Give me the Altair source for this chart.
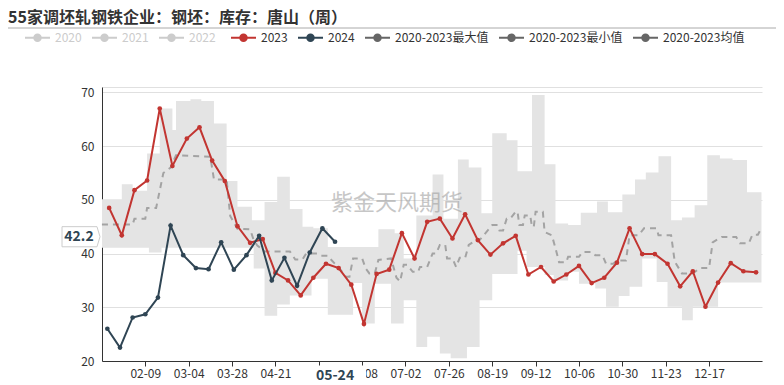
import altair as alt
import pandas as pd

TITLE = "55家调坯轧钢铁企业：钢坯：库存：唐山（周）"
WATERMARK = "紫金天风期货"
FONT = "Noto Sans CJK SC"

# weekly series (Fridays); 2023 is shown on the month-day seasonal axis
S2023_FIRST = "2023-01-20"
S2023 = [48.5, 43.4, 51.8, 53.6, 67.0, 56.3, 61.4, 63.5, 57.3, 53.5,
         45.1, 42.0, 42.7, 36.4, 35.0, 32.2, 35.5, 38.1, 37.3, 34.2,
         26.9, 36.2, 37.0, 43.8, 39.1, 45.9, 46.5, 42.8, 47.3, 42.5,
         39.8, 41.9, 43.3, 36.1, 37.5, 34.8, 36.1, 37.7, 34.5, 35.5,
         38.3, 44.7, 39.9, 39.9, 38.1, 33.9, 36.7, 30.1, 34.6, 38.2,
         36.7, 36.5]
S2024_FIRST = "2024-01-19"
S2024 = [26.0, 22.5, 28.1, 28.7, 31.8, 45.2, 39.7, 37.3, 37.1, 42.1,
         37.0, 39.7, 43.3, 35.0, 39.2, 34.0, 40.2, 44.7, 42.2]

# 2020-2023 max (step changes)
MAX_DATES = ["2024-01-16", "2024-01-27", "2024-02-02", "2024-02-10", "2024-02-17",
             "2024-02-24", "2024-02-26", "2024-03-05", "2024-03-11", "2024-03-18",
             "2024-03-25", "2024-03-31", "2024-04-08", "2024-04-15", "2024-04-22",
             "2024-04-29", "2024-05-06", "2024-05-12", "2024-05-20", "2024-06-17",
             "2024-06-26", "2024-07-01", "2024-07-08", "2024-07-17", "2024-07-23",
             "2024-07-31", "2024-08-06", "2024-08-13", "2024-08-19", "2024-08-27",
             "2024-09-02", "2024-09-10", "2024-09-17", "2024-09-23", "2024-09-30",
             "2024-10-07", "2024-10-16", "2024-10-22", "2024-10-30", "2024-11-06",
             "2024-11-12", "2024-11-19", "2024-11-26", "2024-12-02", "2024-12-09",
             "2024-12-16", "2024-12-23", "2024-12-30", "2025-01-07"]
MAX_VALS = [50.1, 52.9, 51.7, 58.6, 67.0,
            63.0, 68.4, 68.7, 68.4, 64.2,
            53.5, 48.7, 46.2, 49.6, 54.3,
            48.3, 45.0, 44.7, 41.2, 44.5,
            43.8, 39.1, 47.1, 54.7, 46.5,
            57.5, 56.0, 47.5, 62.4, 61.1,
            55.3, 69.5, 56.6, 45.6, 45.3,
            47.6, 49.7, 47.7, 51.0, 53.8,
            55.1, 58.1, 46.2, 46.7, 49.0,
            58.3, 57.7, 57.4, 51.4]

# 2020-2023 min (step changes)
MIN_DATES = ["2024-01-16", "2024-02-11", "2024-02-18", "2024-04-09", "2024-04-15",
             "2024-04-22", "2024-04-29", "2024-05-11", "2024-05-20", "2024-06-03",
             "2024-06-08", "2024-06-15", "2024-06-24", "2024-07-01", "2024-07-08",
             "2024-07-14", "2024-07-21", "2024-07-27", "2024-08-05", "2024-08-12",
             "2024-08-19", "2024-09-02", "2024-09-07", "2024-09-17", "2024-09-22",
             "2024-09-30", "2024-10-06", "2024-10-15", "2024-10-21", "2024-10-28",
             "2024-11-03", "2024-11-10", "2024-11-18", "2024-11-24", "2024-12-02",
             "2024-12-08", "2024-12-22"]
MIN_VALS = [41.1, 40.2, 41.1, 37.2, 28.4,
            30.5, 32.2, 35.3, 28.6, 34.5,
            27.0, 34.4, 27.0, 31.3, 22.6,
            24.5, 21.4, 20.5, 22.6, 31.3,
            36.2, 40.5, 37.5, 36.0, 35.0,
            36.6, 34.4, 33.5, 30.1, 32.1,
            33.8, 39.1, 34.7, 30.1, 27.6,
            30.1, 34.6]
BAND_END = "2025-01-15"

# 2020-2023 mean
MEAN_DATES = ["2024-01-16", "2024-02-02", "2024-02-03", "2024-02-09", "2024-02-10",
              "2024-02-15", "2024-02-19", "2024-02-23", "2024-02-26", "2024-03-16",
              "2024-03-18", "2024-03-25", "2024-03-27", "2024-03-31", "2024-04-07",
              "2024-04-09", "2024-04-11", "2024-04-15", "2024-04-29", "2024-05-02",
              "2024-05-06", "2024-05-08", "2024-05-14", "2024-05-16", "2024-05-20",
              "2024-05-22", "2024-05-27", "2024-05-30", "2024-06-01", "2024-06-03",
              "2024-06-08", "2024-06-10", "2024-06-12", "2024-06-15", "2024-06-17",
              "2024-06-24", "2024-06-27", "2024-06-29", "2024-07-01", "2024-07-03",
              "2024-07-06", "2024-07-09", "2024-07-10", "2024-07-14", "2024-07-17",
              "2024-07-19", "2024-07-21", "2024-07-24", "2024-07-25", "2024-07-28",
              "2024-07-30", "2024-08-01", "2024-08-04", "2024-08-06", "2024-08-10",
              "2024-08-12", "2024-08-19", "2024-08-22", "2024-08-23", "2024-08-25",
              "2024-08-27", "2024-08-29", "2024-09-01", "2024-09-02", "2024-09-03",
              "2024-09-05", "2024-09-06", "2024-09-09", "2024-09-10", "2024-09-11",
              "2024-09-12", "2024-09-16", "2024-09-17", "2024-09-21", "2024-09-23",
              "2024-09-25", "2024-09-29", "2024-09-30", "2024-10-06", "2024-10-08",
              "2024-10-13", "2024-10-15", "2024-10-19", "2024-10-21", "2024-10-25",
              "2024-10-27", "2024-11-01", "2024-11-03", "2024-11-08", "2024-11-11",
              "2024-11-18", "2024-11-19", "2024-11-26", "2024-11-28", "2024-12-02",
              "2024-12-08", "2024-12-12", "2024-12-17", "2024-12-19", "2024-12-24",
              "2025-01-01", "2025-01-03", "2025-01-08", "2025-01-10", "2025-01-13",
              "2025-01-15"]
MEAN_VALS = [45.4, 45.4, 46.5, 46.5, 48.5,
             48.5, 55.0, 56.0, 58.3, 58.0,
             53.8, 53.8, 47.0, 44.6, 44.5,
             42.5, 41.5, 40.4, 40.4, 38.9,
             38.9, 40.0, 40.0, 39.6, 39.6,
             38.8, 37.0, 35.7, 35.7, 39.1,
             39.1, 37.2, 36.3, 36.3, 38.8,
             39.1, 35.5, 34.8, 37.9, 37.9,
             36.6, 36.6, 37.5, 37.5, 40.0,
             40.0, 41.6, 41.6, 39.1, 39.1,
             37.5, 39.2, 39.2, 41.6, 42.5,
             42.5, 45.3, 45.3, 44.3, 44.3,
             46.5, 46.5, 47.8, 47.8, 45.3,
             45.3, 47.1, 47.1, 45.0, 45.0,
             47.8, 47.8, 44.0, 43.4, 41.0,
             38.4, 38.4, 39.4, 39.4, 40.3,
             40.3, 39.7, 39.7, 38.1, 38.1,
             38.7, 38.7, 43.4, 43.4, 44.7,
             44.7, 43.4, 43.4, 38.5, 36.3,
             36.3, 37.3, 37.3, 42.1, 43.1,
             43.1, 41.9, 41.9, 43.5, 43.5,
             44.8]

X_TICKS = ["2024-02-09", "2024-03-04", "2024-03-28", "2024-04-21", "2024-05-15",
           "2024-06-08", "2024-07-02", "2024-07-26", "2024-08-19", "2024-09-12",
           "2024-10-06", "2024-10-30", "2024-11-23", "2024-12-17"]
Y_TICKS = [20, 30, 40, 50, 60, 70, 71]

LEG_A = ["2020", "2021", "2022"]
LEG_B = ["2023", "2024", "2020-2023最大值", "2020-2023最小值", "2020-2023均值"]

RED = "#c23531"
DARK = "#2f4554"
BAND = "#e4e4e4"
MEAN_C = "#a3a3a3"
LEG_GREY = "#cccccc"
LEG_B_COLORS = [RED, DARK, "#666666", "#666666", "#666666"]

# ---------------- tables ----------------
d23 = pd.DataFrame({"date": pd.date_range(S2023_FIRST, periods=len(S2023), freq="7D") + pd.DateOffset(years=1),
                    "val": S2023})
d24 = pd.DataFrame({"date": pd.date_range(S2024_FIRST, periods=len(S2024), freq="7D"), "val": S2024})

mx = pd.Series(MAX_VALS, index=pd.to_datetime(MAX_DATES))
mn = pd.Series(MIN_VALS, index=pd.to_datetime(MIN_DATES))
bidx = mx.index.union(mn.index).union(pd.DatetimeIndex([pd.Timestamp(BAND_END)]))
band_df = pd.DataFrame({"max": mx.reindex(bidx).ffill(), "min": mn.reindex(bidx).ffill()})
band_df.index.name = "date"
band_df = band_df.reset_index()

mean_df = pd.DataFrame({"date": pd.to_datetime(MEAN_DATES), "mean": MEAN_VALS})

last = d24.tail(1).copy()
last["lbl"] = last["val"].map(lambda v: f"{v:.1f}")


def dt(s, hours=0):
    t = pd.Timestamp(s)
    return alt.DateTime(year=t.year, month=t.month, date=t.day, hours=hours)


XSCALE = alt.Scale(domain=[dt("2024-01-16", 1), dt("2025-01-15", 7)])
XAXIS = alt.Axis(values=[dt(s) for s in X_TICKS], format="%m-%d",
                 labelExpr="datum.label == '05-15' ? '' : datum.label",
                 grid=False, tickSize=5, tickColor="#333333", domainColor="#333333",
                 labelColor="#333333", labelFontSize=12, labelFont=FONT,
                 labelPadding=2, labelOverlap=False, title=None)
YSCALE = alt.Scale(domain=[20, 71], nice=False, zero=False)
YAXIS = alt.Axis(values=Y_TICKS, labelExpr="datum.value == 71 ? '' : datum.label",
                 grid=True, gridColor="#e0e0e0", ticks=False, domainColor="#333333",
                 labelColor="#333333", labelFontSize=12, labelFont=FONT,
                 labelPadding=8, title=None)


def xe():
    return alt.X("date:T", scale=XSCALE, axis=XAXIS, title=None)


def ye(field):
    return alt.Y(f"{field}:Q", scale=YSCALE, axis=YAXIS, title=None)


LEG_SYMBOL = "M-1,-0.08H1V0.08H-1Z M0.34,0A0.34,0.34,0,1,1,-0.34,0A0.34,0.34,0,1,1,0.34,0Z"
YBOX = "M-1,-0.53H0.84L1,0L0.84,0.53H-1Z"
XBOX = "M-1,-0.34H1V0.34H-1Z"


def legend(x, label_color):
    return alt.Legend(orient="none", legendX=x, legendY=-62, direction="horizontal",
                      title=None, symbolType=LEG_SYMBOL, symbolSize=625,
                      symbolStrokeWidth=0, symbolOpacity=1,
                      labelFont=FONT, labelFontSize=12, labelColor=label_color,
                      labelOffset=5, columnPadding=10, padding=0)


band = alt.Chart(band_df).mark_area(interpolate="step-after", color=BAND, opacity=1, clip=True).encode(
    x=xe(), y=ye("max"), y2="min:Q")
wm = alt.Chart(pd.DataFrame({"t": [WATERMARK]})).mark_text(
    font=FONT, fontSize=22, color="#999999", opacity=0.55).encode(
    x=alt.value(295), y=alt.value(116), text="t:N")
mean = alt.Chart(mean_df).mark_line(color=MEAN_C, strokeWidth=2, strokeDash=[6, 5]).encode(
    x=xe(), y=ye("mean"))
l23 = alt.Chart(d23).mark_line(color=RED, strokeWidth=2).encode(x=xe(), y=ye("val"))
p23 = alt.Chart(d23).mark_point(filled=True, color=RED, size=22, opacity=1).encode(x=xe(), y=ye("val"))
l24 = alt.Chart(d24).mark_line(color=DARK, strokeWidth=2).encode(x=xe(), y=ye("val"))
p24 = alt.Chart(d24).mark_point(filled=True, color=DARK, size=22, opacity=1).encode(x=xe(), y=ye("val"))

ybox = alt.Chart(last).mark_point(shape=YBOX, size=1444, filled=True, fill="white",
                                  stroke="#cccccc", strokeWidth=1, opacity=1, yOffset=-5).encode(
    x=alt.value(-21), y=ye("val"))
ytxt = alt.Chart(last).mark_text(font=FONT, fontSize=14, fontWeight="bold", color=DARK,
                                 yOffset=-5, dx=-2).encode(
    x=alt.value(-21), y=ye("val"), text="lbl:N")
xbox = alt.Chart(last).mark_point(shape=XBOX, size=3844, filled=True, fill="white",
                                  strokeWidth=0, opacity=1).encode(x=xe(), y=alt.value(289))
xtxt = alt.Chart(last).mark_text(font=FONT, fontSize=14, fontWeight="bold", color=DARK).encode(
    x=xe(), y=alt.value(289), text=alt.Text("date:T", format="%m-%d"))

title = alt.Chart(pd.DataFrame({"t": [TITLE]})).mark_text(
    font=FONT, fontSize=16, fontWeight="bold", color="#333333", align="left", baseline="middle").encode(
    x=alt.value(-94), y=alt.value(-69), text="t:N")
sep = alt.Chart(pd.DataFrame({"a": [0]})).mark_rule(color="#aaaaaa", strokeWidth=1).encode(
    x=alt.value(-94), x2=alt.value(682), y=alt.value(-59))

legA = alt.Chart(pd.DataFrame({"series": LEG_A, "v": [None] * len(LEG_A)})).mark_point(
    filled=True, opacity=1).encode(
    y=ye("v"), color=alt.Color("series:N", scale=alt.Scale(domain=LEG_A, range=[LEG_GREY] * len(LEG_A)),
                               legend=legend(-77, LEG_GREY)))
legB = alt.Chart(pd.DataFrame({"series": LEG_B, "v": [None] * len(LEG_B)})).mark_point(
    filled=True, opacity=1).encode(
    y=ye("v"), color=alt.Color("series:N", scale=alt.Scale(domain=LEG_B, range=LEG_B_COLORS),
                               legend=legend(129, "#333333")))

chart = alt.layer(band, wm, mean, l23, p23, l24, p24, ybox, ytxt, xbox, xtxt, title, sep, legA, legB
                  ).resolve_scale(color="independent").properties(
    width=660, height=274,
    padding={"left": 94, "top": 79, "right": 14, "bottom": 22},
    autosize=alt.AutoSizeParams(type="none"),
    background="white",
).configure_view(stroke=None)

chart.save("out.html", embed_options={"renderer": "svg", "actions": False})
